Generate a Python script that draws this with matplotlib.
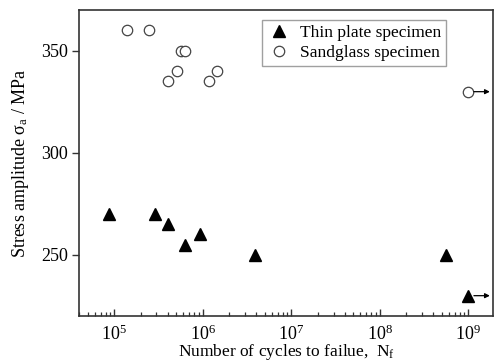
import matplotlib
matplotlib.use("Agg")
import matplotlib.pyplot as plt
from matplotlib.ticker import LogLocator, FixedLocator, NullFormatter

plt.rcParams['font.family'] = ['Liberation Serif', 'DejaVu Serif']
plt.rcParams['mathtext.fontset'] = 'custom'
plt.rcParams['mathtext.rm'] = 'Liberation Serif'
plt.rcParams['mathtext.it'] = 'Liberation Serif'

# thin plate specimen
thin_n = [8.8e4, 2.9e5, 4.1e5, 6.3e5, 9.3e5, 3.9e6, 5.6e8, 1.0e9]
thin_s = [270, 270, 265, 255, 260, 250, 250, 230]
thin_runout = [False, False, False, False, False, False, False, True]

# sandglass specimen
sand_n = [1.4e5, 2.5e5, 4.0e5, 5.1e5, 5.7e5, 6.3e5, 1.19e6, 1.45e6, 1.0e9]
sand_s = [360, 360, 335, 340, 350, 350, 335, 340, 330]
sand_runout = [False, False, False, False, False, False, False, False, True]

fig = plt.figure(figsize=(4.97, 3.6), dpi=100)
ax = fig.add_axes([0.159, 0.122, 0.833, 0.850])

dark = '#333333'
ax.plot(thin_n, thin_s, linestyle='none', marker='^', ms=8, color='black',
        label='Thin plate specimen')
ax.plot(sand_n, sand_s, linestyle='none', marker='o', ms=7.5, mfc='white',
        mec='#444444', mew=0.9, label='Sandglass specimen')

# run-out arrows
for n, s, r in list(zip(thin_n, thin_s, thin_runout)) + list(zip(sand_n, sand_s, sand_runout)):
    if r:
        ax.annotate('', xy=(n * 1.75, s), xytext=(n, s),
                    arrowprops=dict(arrowstyle='-|>', color='black', lw=0.9,
                                    shrinkA=4, shrinkB=0, mutation_scale=7))

ax.set_xscale('log')
ax.set_xlim(4e4, 1.9e9)
ax.set_ylim(220, 370)
ax.yaxis.set_major_locator(FixedLocator([250, 300, 350]))
ax.xaxis.set_major_locator(LogLocator(base=10, numticks=20))
ax.xaxis.set_minor_locator(LogLocator(base=10, subs=range(2, 10), numticks=20))
ax.xaxis.set_minor_formatter(NullFormatter())

for sp in ax.spines.values():
    sp.set_color(dark)
    sp.set_linewidth(1.2)

ax.tick_params(axis='x', which='major', direction='in', length=5, width=1, color=dark,
               labelsize=13, pad=6)
ax.tick_params(axis='x', which='minor', direction='in', length=3, width=0.9, color=dark)
ax.tick_params(axis='y', which='major', direction='out', length=5, width=1, color=dark,
               labelsize=13, pad=3)

ax.set_xlabel('Number of cycles to failue,  N$_\\mathrm{f}$', fontsize=12.5, labelpad=-1)
ax.set_ylabel('Stress amplitude $\\sigma_\\mathrm{a}$ / MPa', fontsize=13, labelpad=7)

leg = ax.legend(loc='upper right', bbox_to_anchor=(0.90, 0.985), fontsize=12.5,
                frameon=True, fancybox=False, edgecolor='#888888', handlelength=1.4,
                handletextpad=0.5, borderpad=0.3, labelspacing=0.2, borderaxespad=0.3)
leg.get_frame().set_linewidth(1.0)

fig.savefig('out.png', dpi=100)
